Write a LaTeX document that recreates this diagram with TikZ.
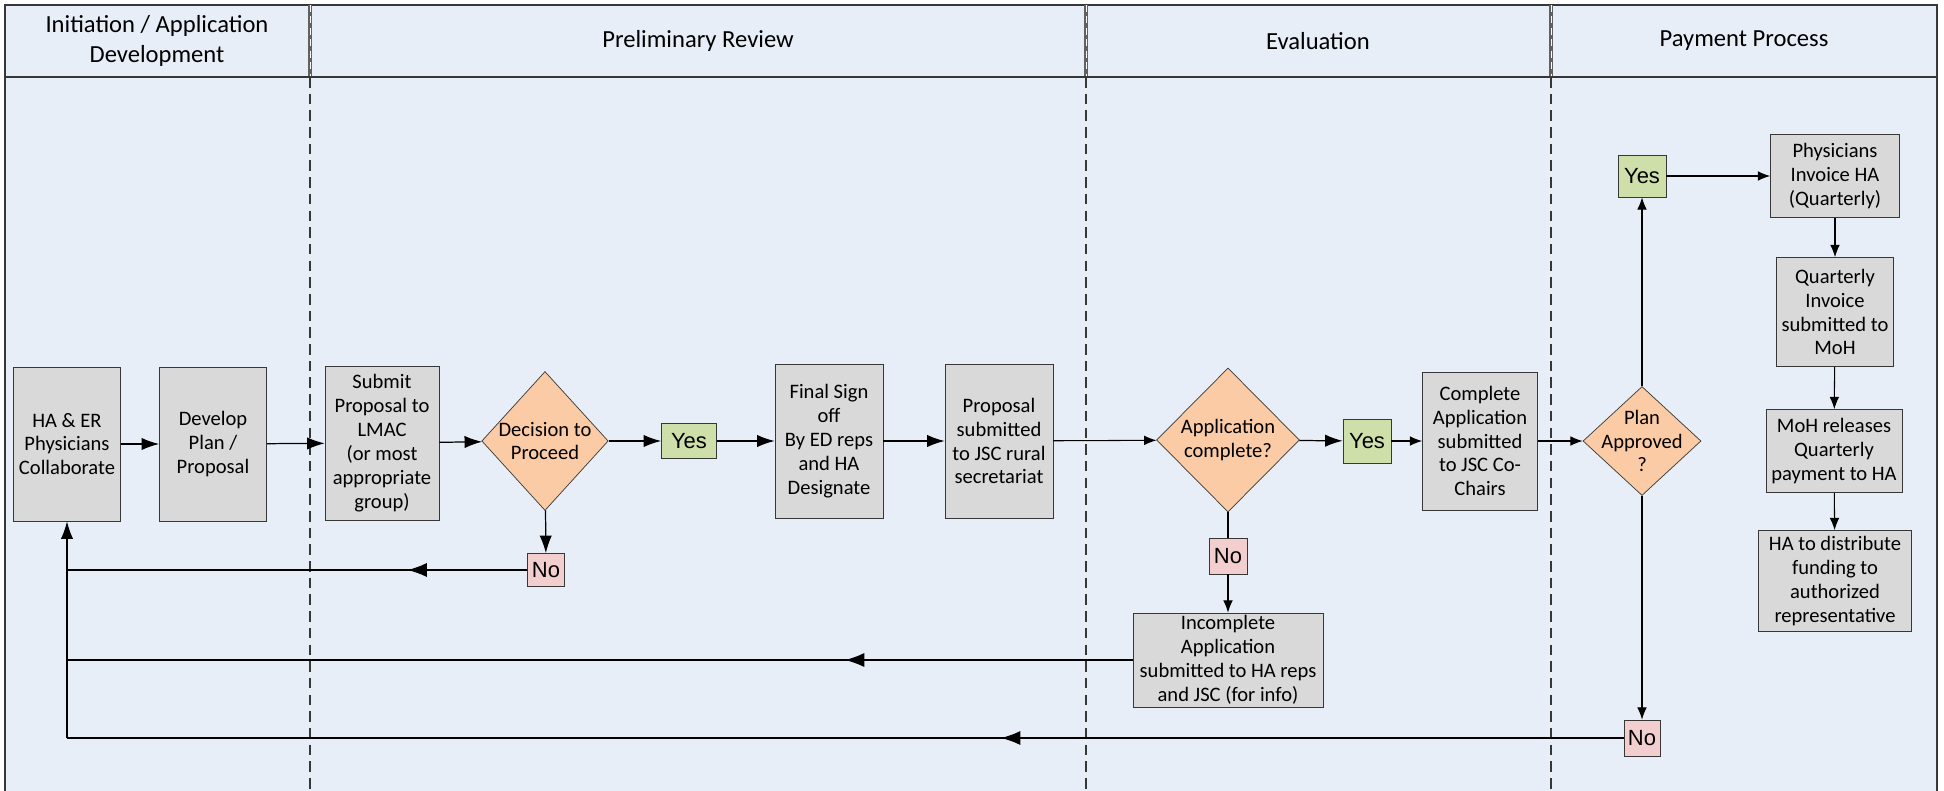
\documentclass[tikz,border=0pt]{standalone}
\usepackage{fontspec}
\setmainfont{Carlito}
\newfontfamily\arialfont{Liberation Sans}
\usetikzlibrary{arrows.meta,shapes.geometric,decorations.markings,positioning}

\definecolor{lanebg}{RGB}{232,238,247}
\definecolor{boxgray}{RGB}{217,217,217}
\definecolor{decpeach}{RGB}{251,203,165}
\definecolor{yesgreen}{RGB}{207,223,170}
\definecolor{nopink}{RGB}{242,206,206}
\definecolor{edge}{RGB}{55,55,55}

\begin{document}
\begin{tikzpicture}[x=0.02cm,y=-0.02cm,
  proc/.style={draw=edge,fill=boxgray,align=center,inner sep=0pt,font=\fontsize{11.7}{13.6}\selectfont},
  dec/.style={diamond,draw=edge,fill=decpeach,inner sep=0pt},
  dectext/.style={align=center,font=\fontsize{11.7}{13.6}\selectfont},
  yes/.style={draw=edge,fill=yesgreen,inner sep=0pt,font=\arialfont\fontsize{12.5}{14}\selectfont},
  no/.style={draw=edge,fill=nopink,inner sep=0pt,font=\arialfont\fontsize{12.5}{14}\selectfont},
  arr/.style={-{Latex[length=10pt,width=7pt]},line width=0.7pt},
  sarr/.style={-{Latex[length=7pt,width=5.5pt]},line width=0.6pt},
  midarr/.style={line width=0.7pt,postaction={decorate},decoration={markings,mark=at position #1 with {\arrow{Latex[length=11pt,width=8pt]}}}},
  lane/.style={align=center,font=\fontsize{14}{17.5}\selectfont}]
  \useasboundingbox (0,0) rectangle (1944,791);

  % swimlanes
  \fill[lanebg] (5,5) rectangle (1937,791);
  \draw[edge,line width=0.8pt] (5,791) -- (5,5) -- (1937,5) -- (1937,791);
  \foreach \x in {310,1086,1551} {
    \draw[edge,line width=0.6pt,dash pattern=on 6pt off 3.5pt] (\x,77) -- (\x,791);
    \draw[gray!75!black,line width=2.4pt] (\x,5) -- (\x,77);
    \draw[white,line width=0.5pt,dash pattern=on 4pt off 2.5pt] (\x,5) -- (\x,77);
  }
  \draw[edge,line width=0.6pt] (5,77) -- (1937,77);
  \node[lane] (lane1) at (157,41) {Initiation / Application\\Development};
  \node[lane] (lane2) at (698,41) {Preliminary Review};
  \node[lane] (lane3) at (1318,41) {Evaluation};
  \node[lane] (lane4) at (1744,41) {Payment Process};

  % main row
  \node[proc,minimum width=2.14cm,minimum height=3.08cm] (collab) at (67,444) {HA \& ER\\Physicians\\Collaborate};
  \node[proc,minimum width=2.14cm,minimum height=3.08cm] (plan) at (213,444) {Develop\\Plan /\\Proposal};
  \node[proc,minimum width=2.28cm,minimum height=3.08cm] (lmac) at (382,443) {Submit\\Proposal to\\LMAC\\(or most\\appropriate\\group)};
  \node[dec,minimum width=2.53cm,minimum height=2.78cm,label={[dectext]center:{Decision to\\Proceed}}] (proceed) at (545,441) {};
  \node[yes,minimum width=1.10cm,minimum height=0.70cm] (yes1) at (689,441) {Yes};
  \node[proc,minimum width=2.16cm,minimum height=3.08cm] (signoff) at (829,441) {Final Sign\\off\\By ED reps\\and HA\\Designate};
  \node[proc,minimum width=2.16cm,minimum height=3.08cm] (jsc) at (999,441) {Proposal\\submitted\\to JSC rural\\secretariat};
  \node[dec,minimum width=2.86cm,minimum height=2.88cm,label={[dectext]center:{Application\\complete?}}] (appok) at (1228,440) {};
  \node[yes,minimum width=0.96cm,minimum height=0.88cm] (yes2) at (1367,441) {Yes};
  \node[proc,minimum width=2.30cm,minimum height=2.76cm] (cochairs) at (1480,441) {Complete\\Application\\submitted\\to JSC Co-\\Chairs};
  \node[dec,minimum width=2.36cm,minimum height=2.18cm,label={[dectext]center:{Plan\\Approved\\?}}] (approved) at (1642,441) {};

  % payment column
  \node[yes,minimum width=0.96cm,minimum height=0.84cm] (yes3) at (1642,176) {Yes};
  \node[proc,minimum width=2.58cm,minimum height=1.66cm] (invoice) at (1835,176) {Physicians\\Invoice HA\\(Quarterly)};
  \node[proc,minimum width=2.34cm,minimum height=2.18cm] (qinvoice) at (1835,312) {Quarterly\\Invoice\\submitted to\\MoH};
  \node[proc,minimum width=2.72cm,minimum height=1.66cm] (release) at (1834,451) {MoH releases\\Quarterly\\payment to HA};
  \node[proc,minimum width=3.06cm,minimum height=2.02cm] (distribute) at (1835,581) {HA to distribute\\funding to\\authorized\\representative};

  % no branches
  \node[no,minimum width=0.74cm,minimum height=0.66cm] (no1) at (546,570) {No};
  \node[no,minimum width=0.76cm,minimum height=0.72cm] (no2) at (1228,556) {No};
  \node[proc,minimum width=3.80cm,minimum height=1.88cm] (incomp) at (1228,660) {Incomplete\\Application\\submitted to HA reps\\and JSC (for info)};
  \node[no,minimum width=0.72cm,minimum height=0.72cm] (no3) at (1642,738) {No};

  % connectors
  \draw[arr] (collab) -- (plan);
  \draw[arr] (plan) -- (lmac);
  \draw[arr] (lmac) -- (proceed);
  \draw[arr] (proceed) -- (yes1);
  \draw[arr] (yes1) -- (signoff);
  \draw[arr] (signoff) -- (jsc);
  \draw[sarr] (jsc) -- (appok);
  \draw[arr] (appok) -- (yes2);
  \draw[sarr] (yes2) -- (cochairs);
  \draw[sarr] (cochairs) -- (approved);
  \draw[sarr] (approved) -- (yes3);
  \draw[sarr] (yes3) -- (invoice);
  \draw[sarr] (invoice) -- (qinvoice);
  \draw[sarr] (qinvoice) -- (release);
  \draw[sarr] (release) -- (distribute);
  \draw[sarr] (approved) -- (no3);
  \draw[arr] (proceed) -- (no1);
  \draw[line width=0.6pt] (appok) -- (no2);
  \draw[sarr] (no2) -- (incomp);

  % back to start
  \draw[midarr=0.26] (no1.west) -- (no1.west -| collab.south);
  \draw[midarr=0.27] (incomp.west) -- (incomp.west -| collab.south);
  \draw[midarr=0.40] (no3.west) -- (no3.west -| collab.south);
  \draw[arr] (no3.west -| collab.south) -- (collab.south);
\end{tikzpicture}
\end{document}
